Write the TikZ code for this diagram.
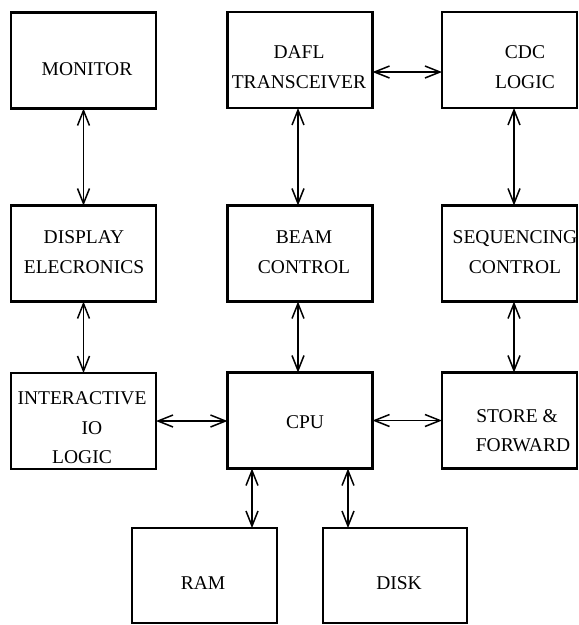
\documentclass[tikz,border=0pt]{standalone}
\usepackage{fontspec}
\setmainfont{Liberation Serif}
\usetikzlibrary{arrows.meta}

\tikzset{
  blk/.style={draw, line width=2.2pt, minimum width=145pt, minimum height=96pt,
              outer sep=0pt, inner sep=0pt},
  narrowblk/.style={blk, minimum width=135pt},
  lbl/.style={font=\fontsize{19.5}{30.5}\selectfont, align=center, inner sep=0pt},
  link/.style={line width=1.5pt,
               {Straight Barb[length=15pt,width=12pt,line width=1.5pt]}-{Straight Barb[length=15pt,width=12pt,line width=1.5pt]}},
}

\begin{document}
\begin{tikzpicture}[x=1pt, y=-1pt]
  \useasboundingbox (0,0) rectangle (579,625);

  % blocks
  \node[blk]       (mon)   at (83.5,60.5)  {};
  \node[blk]       (dafl)  at (300,60)     {};
  \node[narrowblk] (cdc)   at (509.5,60)   {};
  \node[blk]       (disp)  at (83.5,253.5) {};
  \node[blk]       (beam)  at (300,253.5)  {};
  \node[narrowblk] (seq)   at (509.5,253.5){};
  \node[blk]       (io)    at (83.5,421)   {};
  \node[blk]       (cpu)   at (300,420.5)  {};
  \node[narrowblk] (store) at (509.5,420.5){};
  \node[blk, minimum height=95pt] (ram)  at (204.5,575.5) {};
  \node[blk, minimum width=144pt, minimum height=95pt] (disk) at (395,575.5) {};

  % block captions
  \node[lbl] (monT)   at (87,69)    {MONITOR};
  \node[lbl] (daflT)  at (299,67)   {DAFL\\TRANSCEIVER};
  \node[lbl] (cdcT)   at (525,67)   {CDC\\LOGIC};
  \node[lbl] (dispT)  at (84,252)   {DISPLAY\\ELECRONICS};
  \node[lbl] (beamT)  at (304,252)  {BEAM\\CONTROL};
  \node[lbl] (seqT)   at (515,252)  {SEQUENCING\\CONTROL};
  \node[lbl, font=\fontsize{19.5}{29.5}\selectfont] (ioT) at (82,428)
        {INTERACTIVE\\\hspace*{20pt}IO\\LOGIC};
  \node[lbl] (cpuT)   at (305,422)  {CPU};
  \node[lbl, font=\fontsize{19.5}{29}\selectfont] (storeT) at (517,431)
        {STORE \&\\\hspace*{12pt}FORWARD};
  \node[lbl] (ramT)   at (203,583)  {RAM};
  \node[lbl] (diskT)  at (399,583)  {DISK};

  % connections
  \draw[link] (mon.south) -- (disp.north);
  \draw[link] (disp.south) -- (io.north);
  \draw[link] ([xshift=-2pt]dafl.south) -- ([xshift=-2pt]beam.north);
  \draw[link] ([xshift=-2pt]beam.south) -- ([xshift=-2pt]cpu.north);
  \draw[link] ([xshift=4.5pt]cdc.south) -- ([xshift=4.5pt]seq.north);
  \draw[link] ([xshift=4.5pt]seq.south) -- ([xshift=4.5pt]store.north);
  \draw[link] ([yshift=-12pt]dafl.east) -- ([yshift=-12pt]cdc.west);
  \draw[link] (io.east) -- (io.east -| cpu.west);
  \draw[link] (cpu.east) -- (cpu.east -| store.west);
  \draw[link] ([xshift=47.5pt]ram.north |- cpu.south) -- ([xshift=47.5pt]ram.north);
  \draw[link] ([xshift=-47pt]disk.north |- cpu.south) -- ([xshift=-47pt]disk.north);
\end{tikzpicture}
\end{document}
